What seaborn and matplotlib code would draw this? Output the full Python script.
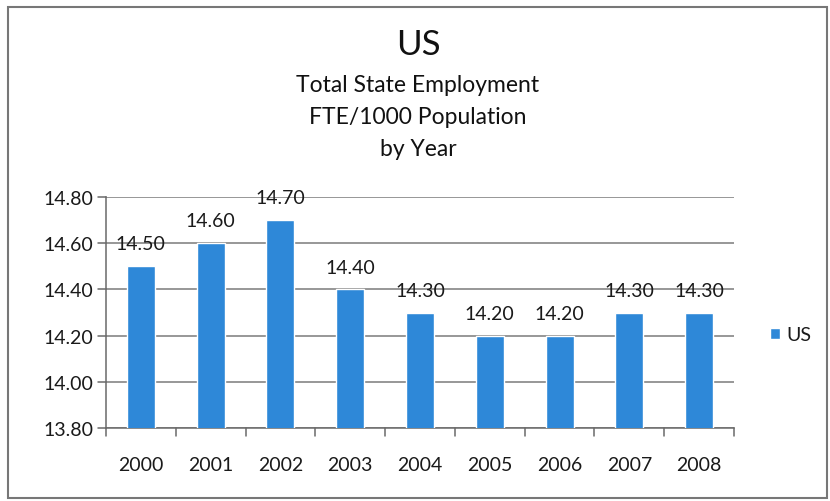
import matplotlib
matplotlib.use("Agg")
import matplotlib.pyplot as plt
import seaborn as sns
import pandas as pd
from matplotlib.patches import Rectangle

years = ["2000", "2001", "2002", "2003", "2004", "2005", "2006", "2007", "2008"]
values = [14.50, 14.60, 14.70, 14.40, 14.30, 14.20, 14.20, 14.30, 14.30]
yticks = [13.80, 14.00, 14.20, 14.40, 14.60, 14.80]
series_name = "US"
title_main = "US"
title_sub = ["Total State Employment", "FTE/1000 Population", "by Year"]

sns.set_style("white")
plt.rcParams["font.family"] = ["Lato", "DejaVu Sans"]

df = pd.DataFrame({"Year": years, "Value": values, "Series": series_name})

fig = plt.figure(figsize=(8.3, 5.02), dpi=100)
ax = fig.add_axes([106/830, 1-429/502, (734-106)/830, (429-198)/502])

bar_color = "#2E88D8"
sns.barplot(data=df, x="Year", y="Value", hue="Series", palette=[bar_color],
            width=0.4, ax=ax, zorder=3, saturation=1, legend=True)

txt = "#1a1a1a"
fs = 14
ax.set_ylim(13.80, 14.80)
ax.set_xlim(-0.5, len(years) - 0.5)
ax.set_yticks(yticks)
ax.set_yticklabels([f"{v:.2f}" for v in yticks], fontsize=fs, color=txt)
ax.set_xticks(range(len(years)))
ax.set_xticklabels(years, fontsize=fs, color=txt)
ax.set_xlabel("")
ax.set_ylabel("")

for y in yticks:
    ax.axhline(y, color="#7a7a7a", lw=1.1, zorder=1)

for s in ["top", "right"]:
    ax.spines[s].set_visible(False)
for s in ["left", "bottom"]:
    ax.spines[s].set_color("#6a6a6a")
    ax.spines[s].set_linewidth(1.1)

ax.tick_params(axis="x", length=0, pad=20)
ax.tick_params(axis="y", length=0, pad=9)
for i in range(len(years) + 1):
    ax.plot([i - 0.5, i - 0.5], [0, -0.035], transform=ax.get_xaxis_transform(),
            color="#6a6a6a", lw=1.1, clip_on=False)
for y in yticks:
    ax.plot([-0.013, 0], [y, y], transform=ax.get_yaxis_transform(),
            color="#6a6a6a", lw=1.1, clip_on=False)

for i, v in enumerate(values):
    ax.annotate(f"{v:.2f}", (i, v), xytext=(0, 10), textcoords="offset points",
                ha="center", va="bottom", fontsize=fs, color=txt, zorder=5)

leg = ax.legend(loc="center left", bbox_to_anchor=(1.03, 0.405), frameon=False,
                fontsize=fs, handlelength=0.5, handleheight=0.5, handletextpad=0.35)
for t in leg.get_texts():
    t.set_color(txt)

fig.text(418/830, 1-45/502, title_main, ha="center", va="center", fontsize=25, color="#111111")
for k, line in enumerate(title_sub):
    fig.text(418/830, 1-(86 + 32*k)/502, line, ha="center", va="center", fontsize=16.5,
             color="#111111")

fig.patches.append(Rectangle((8/830, 1-499/502), (827-8)/830, (499-8)/502,
                             transform=fig.transFigure, fill=False,
                             edgecolor="#777777", lw=1.5))

fig.savefig("out.png", dpi=100)
